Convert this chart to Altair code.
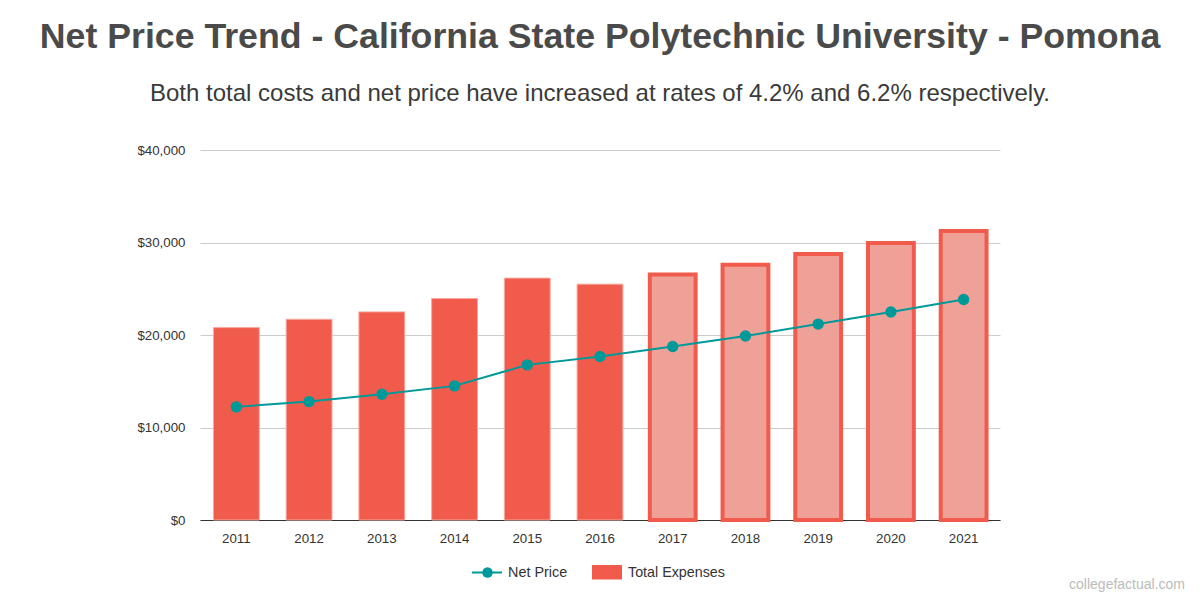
import altair as alt
import pandas as pd

years = ["2011", "2012", "2013", "2014", "2015", "2016", "2017", "2018", "2019", "2020", "2021"]
total_expenses = [20800, 21700, 22500, 23950, 26150, 25500, 26550, 27600, 28750, 29950, 31250]
net_price = [12230, 12800, 13600, 14500, 16770, 17670, 18760, 19900, 21180, 22480, 23840]
projected = [False, False, False, False, False, False, True, True, True, True, True]
y_ticks = [0, 10000, 20000, 30000, 40000]
legend_labels = ["Net Price", "Total Expenses"]
title_text = "Net Price Trend - California State Polytechnic University - Pomona"
subtitle_text = "Both total costs and net price have increased at rates of 4.2% and 6.2% respectively."
watermark_text = "collegefactual.com"

RED = "#F15B4C"
LIGHT = "#F0A197"
TEAL = "#009999"
FONT = "Liberation Sans"

df = pd.DataFrame({
    "Year": years,
    "Total Expenses": total_expenses,
    "Net Price": net_price,
    "Projected": projected,
})

x_enc = alt.X(
    "Year:N",
    sort=years,
    scale=alt.Scale(paddingInner=0.37, paddingOuter=0.185),
    axis=alt.Axis(title=None, labelAngle=0, labelFontSize=13.3, labelColor="#333333",
                  domainColor="#333333", domainWidth=1, ticks=False, labelPadding=11,
                  grid=False, labelFont=FONT),
)
y_axis = alt.Axis(title=None, values=y_ticks, format="$,.0f", labelFontSize=13.3,
                  labelColor="#333333", gridColor="#cccccc", gridWidth=1, domain=False,
                  ticks=False, labelPadding=15, labelFont=FONT)
y_scale = alt.Scale(domain=[0, 40000], nice=False)

base = alt.Chart(df)

bars_past = base.transform_filter("!datum.Projected").mark_bar(
    color=RED, stroke="#F7A99F", strokeWidth=1
).encode(x=x_enc, y=alt.Y("Total Expenses:Q", scale=y_scale, axis=y_axis))

bars_proj = base.transform_filter("datum.Projected").mark_bar(
    fill=LIGHT, stroke="#F05B4B", strokeWidth=4
).encode(x=x_enc, y=alt.Y("Total Expenses:Q", scale=y_scale, axis=y_axis))

line = base.mark_line(color=TEAL, strokeWidth=2).encode(
    x=x_enc, y=alt.Y("Net Price:Q", scale=y_scale, axis=y_axis))
points = base.mark_circle(color=TEAL, size=130, opacity=1).encode(
    x=x_enc, y=alt.Y("Net Price:Q", scale=y_scale, axis=y_axis))


def one(text):
    return alt.Chart(pd.DataFrame({"t": [text]}))


title = one(title_text).mark_text(
    font=FONT, fontSize=35.7, fontWeight="bold", color="#4a4a4a", align="center", baseline="alphabetic"
).encode(x=alt.value(400), y=alt.value(-102.5), text="t:N")

subtitle = one(subtitle_text).mark_text(
    font=FONT, fontSize=24, color="#3a3a3a", align="center", baseline="alphabetic"
).encode(x=alt.value(400), y=alt.value(-49), text="t:N")

watermark = one(watermark_text).mark_text(
    font=FONT, fontSize=14, color="#bbbbbb", align="right", baseline="alphabetic"
).encode(x=alt.value(985), y=alt.value(439), text="t:N")

leg_line = one(legend_labels[0]).mark_rule(color=TEAL, strokeWidth=2).encode(
    x=alt.value(272), x2=alt.value(302), y=alt.value(422.5))
leg_dot = one(legend_labels[0]).mark_circle(color=TEAL, size=110, opacity=1).encode(
    x=alt.value(287.5), y=alt.value(422.5))
leg_text1 = one(legend_labels[0]).mark_text(
    font=FONT, fontSize=14.4, color="#333333", align="left", baseline="middle"
).encode(x=alt.value(308), y=alt.value(422.5), text="t:N")
leg_rect = one(legend_labels[1]).mark_rect(color=RED).encode(
    x=alt.value(392), x2=alt.value(422), y=alt.value(415), y2=alt.value(429.5))
leg_text2 = one(legend_labels[1]).mark_text(
    font=FONT, fontSize=14.3, color="#333333", align="left", baseline="middle"
).encode(x=alt.value(428), y=alt.value(422.5), text="t:N")

chart = alt.layer(
    bars_past, bars_proj, line, points,
    title, subtitle, watermark,
    leg_line, leg_dot, leg_text1, leg_rect, leg_text2,
).resolve_scale(y="shared").properties(
    width=800,
    height=370,
    background="white",
    autosize=alt.AutoSizeParams(type="none"),
    padding={"left": 192, "top": 142, "right": 192, "bottom": 72},
).configure_view(stroke=None, strokeWidth=0)

chart.save("out.html", embed_options={"renderer": "svg", "actions": False})
